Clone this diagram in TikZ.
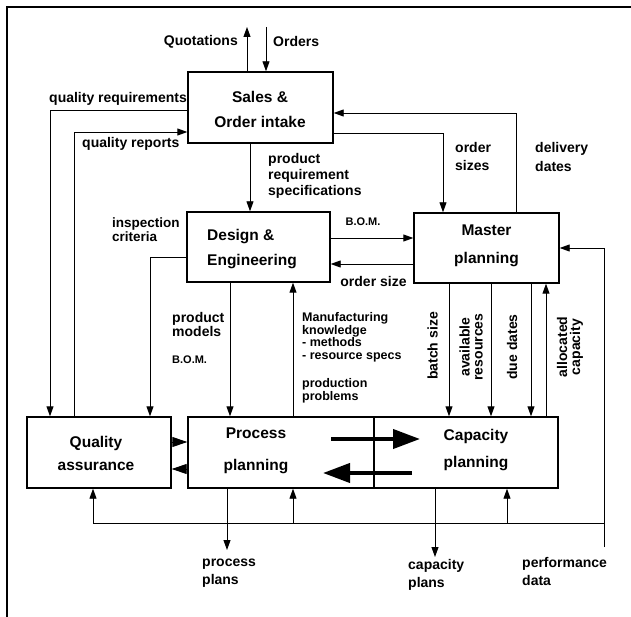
\documentclass[tikz,border=0pt]{standalone}
\usepackage{fontspec}
\setmainfont{Liberation Sans}
\usetikzlibrary{arrows.meta}
\begin{document}
\begin{tikzpicture}[x=1pt,y=-1pt,
  box/.style={draw, line width=1.4pt, inner sep=0pt},
  arr/.style={line width=0.9pt, -{Triangle[length=10pt,width=7pt]}},
  ln/.style={line width=0.9pt},
  big/.style={line width=4pt, -{Triangle[length=27pt,width=19pt]}},
  tiny/.style={line width=0.9pt, -{Triangle[length=15pt,width=10pt]}},
  lbl/.style={inner sep=0pt, align=left, font=\bfseries\fontsize{14}{16}\selectfont},
  small/.style={inner sep=0pt, font=\bfseries\fontsize{11}{12}\selectfont},
  mk/.style={inner sep=0pt, align=left, font=\bfseries\fontsize{12.5}{12.8}\selectfont},
  rot/.style={inner sep=0pt, align=center, rotate=90, font=\bfseries\fontsize{14}{13}\selectfont}
]
\useasboundingbox (0,0) rectangle (631,617);
% frame
\draw[line width=1.2pt] (631,7) -- (7,7) -- (7,617);

% boxes
\node[box, minimum width=145pt, minimum height=71pt] (sales) at (260.5,107.5) {};
\node[box, minimum width=143pt, minimum height=70pt] (design) at (258.5,247) {};
\node[box, minimum width=145pt, minimum height=70pt] (master) at (486.5,248) {};
\node[box, minimum width=144pt, minimum height=71pt] (qa) at (99,452.5) {};
\node[box, minimum width=186pt, minimum height=71pt] (proc) at (281,452.5) {};
\node[box, minimum width=184pt, minimum height=71pt] (cap) at (466,452.5) {};

% box texts
\node[inner sep=0pt, align=center, font=\bfseries\fontsize{15.5}{25}\selectfont] (salest) at (260,109.5) {Sales \&\\Order intake};
\node[inner sep=0pt, align=left, anchor=west, font=\bfseries\fontsize{15.5}{25}\selectfont] (designt) at (207,249.5) {Design \&\\Engineering};
\node[inner sep=0pt, align=center, font=\bfseries\fontsize{15.5}{28}\selectfont] (mastert) at (486.5,246) {Master\\planning};
\node[inner sep=0pt, align=center, font=\bfseries\fontsize{15.5}{23}\selectfont] (qat) at (96,453.5) {Quality\\assurance};
\node[inner sep=0pt, align=center, font=\bfseries\fontsize{15.5}{32}\selectfont] (proct) at (256,451) {Process\\planning};
\node[inner sep=0pt, align=center, font=\bfseries\fontsize{15.5}{27}\selectfont] (capt) at (476,450.5) {Capacity\\planning};

% Quotations / Orders
\coordinate (qx) at (247,27);
\coordinate (ox) at (266,27);
\draw[arr] (qx |- sales.north) -- (qx);
\draw[arr] (ox) -- (ox |- sales.north);
\node[lbl, anchor=east] (quot) at (238,42) {Quotations};
\node[lbl, anchor=west] (ord) at (273,42) {Orders};

% quality requirements
\coordinate (qr) at (50,110);
\draw[arr] (sales.west |- qr) -- (qr) -- (qr |- qa.north);
\node[lbl, anchor=base west] (qrl) at (49,103) {quality requirements};

% quality reports
\coordinate (qp) at (74,132);
\draw[arr] (qp |- qa.north) -- (qp) -- (qp -| sales.west);
\node[lbl, anchor=base west] (qpl) at (82,148) {quality reports};

% product requirement specifications
\coordinate (px) at (250,0);
\draw[arr] (px |- sales.south) -- (px |- design.north);
\node[lbl, anchor=north west] (prsl) at (268,153) {product\\requirement\\specifications};

% order sizes
\coordinate (os) at (443,133);
\draw[arr] (sales.east |- os) -- (os) -- (os |- master.north);
\node[lbl, anchor=north west, font=\bfseries\fontsize{14}{18}\selectfont] (osl) at (455,142) {order\\sizes};

% delivery dates
\coordinate (dd) at (516,113);
\draw[arr] (dd |- master.north) -- (dd) -- (dd -| sales.east);
\node[lbl, anchor=north west, font=\bfseries\fontsize{14}{19}\selectfont] (ddl) at (535,142) {delivery\\dates};

% B.O.M. / order size
\coordinate (bomy) at (0,238);
\coordinate (osy) at (0,264);
\draw[arr] (design.east |- bomy) -- (master.west |- bomy);
\draw[arr] (master.west |- osy) -- (design.east |- osy);
\node[small] (boml) at (363,221.5) {B.O.M.};
\node[lbl] (oszl) at (373.5,281) {order size};

% inspection criteria
\coordinate (ic) at (150,257);
\draw[arr] (design.west |- ic) -- (ic) -- (ic |- qa.north);
\node[lbl, anchor=north west, font=\bfseries\fontsize{13.5}{12.5}\selectfont] (icl) at (112,218) {inspection\\criteria};

% product models
\coordinate (pm) at (230,0);
\draw[arr] (pm |- design.south) -- (pm |- proc.north);
\node[lbl, anchor=north west, font=\bfseries\fontsize{14}{13}\selectfont] (pml) at (172,312) {product\\models};
\node[small, anchor=west] (bom2) at (172,359.5) {B.O.M.};

% manufacturing knowledge
\coordinate (mk) at (293,0);
\draw[arr] (mk |- proc.north) -- (mk |- design.south);
\node[mk, anchor=north west] (mkl) at (302,312) {Manufacturing\\knowledge\\- methods\\- resource specs};
\node[mk, anchor=north west] (ppl) at (302,378) {production\\problems};

% master -> capacity
\coordinate (bs) at (449,0);
\coordinate (ar) at (491,0);
\coordinate (du) at (531,0);
\coordinate (ac) at (546,0);
\draw[arr] (bs |- master.south) -- (bs |- cap.north);
\draw[arr] (ar |- master.south) -- (ar |- cap.north);
\draw[arr] (du |- master.south) -- (du |- cap.north);
\draw[arr] (ac |- cap.north) -- (ac |- master.south);
\node[rot] (bsl) at (432.5,346) {batch size};
\node[rot] (arl) at (471,347) {available\\resources};
\node[rot] (dul) at (512,347) {due dates};
\node[rot] (acl) at (570,347) {allocated\\capacity};

% performance data feedback
\coordinate (pd) at (604,547);
\coordinate (fbr) at (604,523);
\coordinate (fbl) at (93,523);
\coordinate (fbc) at (507,523);
\draw[arr] (pd) -- (pd |- master.east) -- (master.east);
\draw[ln] (fbr) -- (fbl);
\draw[arr] (fbl) -- (fbl |- qa.south);
\draw[arr] (mk |- fbl) -- (mk |- proc.south);
\draw[arr] (fbc) -- (fbc |- cap.south);
\node[lbl, anchor=north west, font=\bfseries\fontsize{14}{18}\selectfont] (pdl) at (522,557) {performance\\data};

% outputs
\coordinate (pp) at (227,550);
\coordinate (cp) at (435,557);
\draw[arr] (pp |- proc.south) -- (pp);
\draw[arr] (cp |- cap.south) -- (cp);
\node[lbl, anchor=north west, font=\bfseries\fontsize{14}{18}\selectfont] (ppo) at (202,559) {process\\plans};
\node[lbl, anchor=north west, font=\bfseries\fontsize{14}{18}\selectfont] (cpo) at (408,559) {capacity\\plans};

% QA <-> process
\coordinate (s1) at (0,442);
\coordinate (s2) at (0,469);
\draw[tiny] (qa.east |- s1) -- (proc.west |- s1);
\draw[tiny] (proc.west |- s2) -- (qa.east |- s2);

% big arrows process <-> capacity
\coordinate (b1s) at (331,439);
\coordinate (b1e) at (420,439);
\coordinate (b2s) at (412,473);
\coordinate (b2e) at (323,473);
\draw[big] (b1s) -- (b1e);
\draw[big] (b2s) -- (b2e);
\end{tikzpicture}
\end{document}
